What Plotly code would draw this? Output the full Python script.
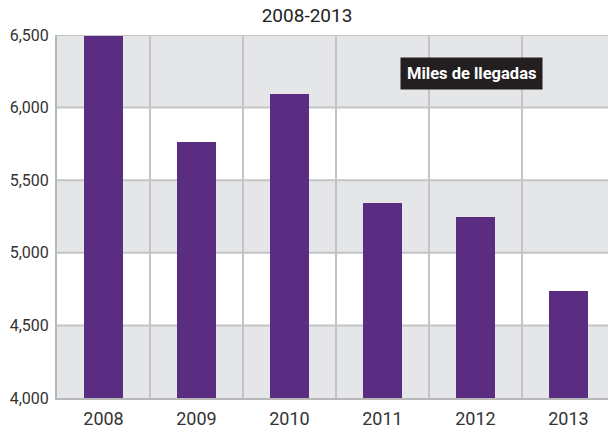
import plotly.graph_objects as go

years = ["2008", "2009", "2010", "2011", "2012", "2013"]
arrivals = [6490, 5760, 6092, 5340, 5245, 4735]
y_ticks = [4000, 4500, 5000, 5500, 6000, 6500]
y_tick_labels = ["4,000", "4,500", "5,000", "5,500", "6,000", "6,500"]
title_text = "2008-2013"
box_text = "Miles de llegadas"

FONT = "Roboto"
fig = go.Figure()
fig.add_trace(go.Bar(x=list(range(len(years))), y=arrivals, marker_color="#5b2d82",
                     width=0.42, marker_line_width=0, hoverinfo="skip"))

shapes = []
# alternating bands
for i in range(len(y_ticks) - 1):
    if (len(y_ticks) - 2 - i) % 2 == 0:
        shapes.append(dict(type="rect", xref="paper", yref="y", x0=0, x1=1,
                           y0=y_ticks[i], y1=y_ticks[i + 1], fillcolor="#e5e6e8",
                           line_width=0, layer="below"))
# horizontal grid
for v in y_ticks[1:]:
    shapes.append(dict(type="line", xref="paper", yref="y", x0=0, x1=1, y0=v, y1=v,
                       line=dict(color="#c4c4c6", width=2), layer="below"))
# vertical grid at category boundaries
for i in range(len(years)):
    shapes.append(dict(type="line", xref="x", yref="paper", x0=i + 0.5, x1=i + 0.5,
                       y0=0, y1=1, line=dict(color="#c4c4c6", width=2), layer="below"))

fig.update_layout(
    width=608, height=428,
    margin=dict(l=57, r=0, t=35, b=30),
    paper_bgcolor="white", plot_bgcolor="white",
    showlegend=False,
    bargap=0,
    shapes=shapes,
    title=dict(text=title_text, x=0.505, xanchor="center", y=1 - 15 / 428,
               yanchor="middle", font=dict(family=FONT, size=19, color="#1e1e1e", weight=400)),
    xaxis=dict(range=[-0.5, 5.425], tickmode="array", tickvals=list(range(len(years))),
               ticktext=years, showgrid=False, zeroline=False, showline=True,
               linecolor="#b8b8ba", linewidth=2, ticks="", ticklabelstandoff=3,
               tickfont=dict(family=FONT, size=18, color="#333"), fixedrange=True),
    yaxis=dict(range=[4000, 6500], tickmode="array", tickvals=y_ticks,
               ticktext=y_tick_labels, showgrid=False, zeroline=False, showline=True,
               linecolor="#b8b8ba", linewidth=2, ticks="", ticklabelstandoff=3,
               tickfont=dict(family=FONT, size=16, color="#333"), fixedrange=True),
    annotations=[dict(x=3.96, y=6235, xref="x", yref="y", text=f"<b>{box_text}</b>",
                      showarrow=False, bgcolor="#231f20", borderpad=6,
                      font=dict(family=FONT, size=16.5, color="white"))],
)

fig.write_html("out.html", config={"displayModeBar": False},
               post_script="document.body.style.margin='0';")
